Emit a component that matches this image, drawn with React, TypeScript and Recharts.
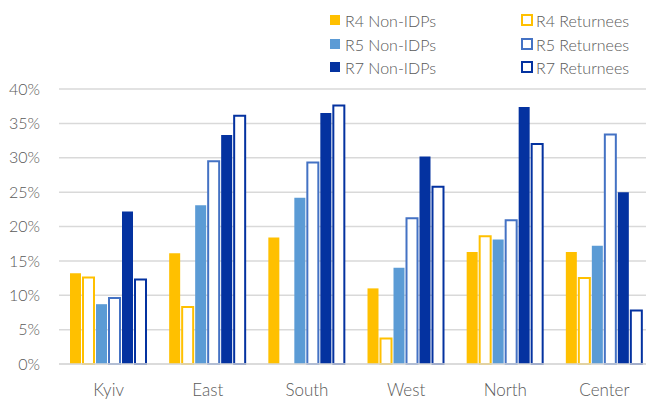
import React from 'react';
import { BarChart, Bar, XAxis, YAxis, CartesianGrid, Legend } from 'recharts';

const categories = ['Kyiv', 'East', 'South', 'West', 'North', 'Center'];
const r4NonIDPs = [13.2, 16.1, 18.4, 11.0, 16.3, 16.3];
const r4Returnees = [12.6, 8.3, null, 3.7, 18.6, 12.5];
const r5NonIDPs = [8.7, 23.1, 24.2, 14.0, 18.1, 17.2];
const r5Returnees = [9.6, 29.5, 29.3, 21.2, 20.9, 33.4];
const r7NonIDPs = [22.2, 33.3, 36.5, 30.2, 37.4, 25.0];
const r7Returnees = [12.3, 36.1, 37.6, 25.8, 32.0, 7.8];
const yTicks = [0, 5, 10, 15, 20, 25, 30, 35, 40];

const series = [
  { key: 'r4n', name: 'R4 Non-IDPs', values: r4NonIDPs, color: '#FFC000', hollow: false },
  { key: 'r4r', name: 'R4 Returnees', values: r4Returnees, color: '#FFC000', hollow: true },
  { key: 'r5n', name: 'R5 Non-IDPs', values: r5NonIDPs, color: '#5B9BD5', hollow: false },
  { key: 'r5r', name: 'R5 Returnees', values: r5Returnees, color: '#4472C4', hollow: true },
  { key: 'r7n', name: 'R7 Non-IDPs', values: r7NonIDPs, color: '#0432A0', hollow: false },
  { key: 'r7r', name: 'R7 Returnees', values: r7Returnees, color: '#0432A0', hollow: true },
];

const data = categories.map((c, i) => {
  const row: Record<string, any> = { category: c };
  series.forEach((s) => {
    row[s.key] = s.values[i];
  });
  return row;
});

const FONT = 'Lato, "Open Sans", sans-serif';
const TEXT = '#595959';

const legendOrder = [
  [series[0], series[1]],
  [series[2], series[3]],
  [series[4], series[5]],
];

const LegendContent = () => (
  <div style={{ position: 'relative', width: 646, height: 80, fontFamily: FONT }}>
    {legendOrder.map((row, ri) =>
      row.map((s, ci) => {
        const top = [12, 36, 59][ri];
        const left = ci === 0 ? 322 : 513;
        return (
          <div
            key={s.key}
            style={{
              position: 'absolute',
              left,
              top: top - 10,
              height: 20,
              display: 'flex',
              alignItems: 'center',
              whiteSpace: 'nowrap',
            }}
          >
            <span
              style={{
                display: 'inline-block',
                boxSizing: 'border-box',
                width: s.hollow ? 12 : 10,
                height: s.hollow ? 12 : 10,
                background: s.hollow ? '#fff' : s.color,
                border: s.hollow ? `2px solid ${s.color}` : 'none',
                marginRight: s.hollow ? 3 : 5,
              }}
            />
            <span style={{ fontSize: 16, fontWeight: 300, color: TEXT }}>{s.name}</span>
          </div>
        );
      })
    )}
  </div>
);

export default function App() {
  return (
    <BarChart
      width={646}
      height={393}
      data={data}
      margin={{ top: 81, right: 0, bottom: 7, left: 0 }}
      barCategoryGap={11}
      barGap={2}
    >
      <CartesianGrid vertical={false} stroke="#d9d9d9" strokeWidth={1.5} />
      <XAxis
        dataKey="category"
        axisLine={{ stroke: '#d9d9d9', strokeWidth: 1.5 }}
        tickLine={false}
        tickSize={6}
        tickMargin={14}
        height={30}
        tick={{ fill: TEXT, fontSize: 17, fontFamily: FONT, fontWeight: 300 }}
      />
      <YAxis
        width={51}
        domain={[0, 40]}
        ticks={yTicks}
        axisLine={false}
        tickLine={false}
        tickSize={6}
        tickMargin={13}
        tickFormatter={(v: number) => `${v}%`}
        tick={{ fill: TEXT, fontSize: 16, fontFamily: FONT, fontWeight: 300 }}
      />
      <Legend
        layout="horizontal"
        verticalAlign="middle"
        align="center"
        wrapperStyle={{ position: 'absolute', top: 0, left: 0, width: 646, height: 80 }}
        content={() => <LegendContent />}
      />
      {series.map((s) => (
        <Bar
          key={s.key}
          dataKey={s.key}
          name={s.name}
          fill={s.hollow ? '#ffffff' : s.color}
          stroke={s.hollow ? s.color : 'none'}
          strokeWidth={s.hollow ? 2 : 0}
          isAnimationActive={false}
        />
      ))}
    </BarChart>
  );
}
